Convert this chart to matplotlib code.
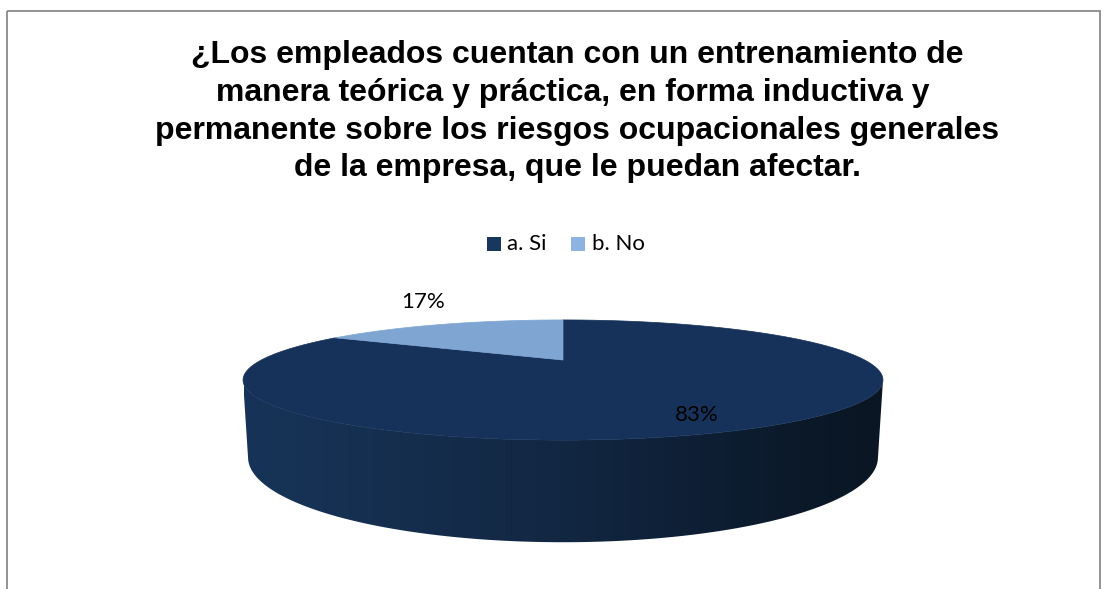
import numpy as np
import matplotlib
matplotlib.use("Agg")
import matplotlib.pyplot as plt
from matplotlib.patches import Polygon, Rectangle

# ---- data ----
categories = ["a. Si", "b. No"]
values = [83, 17]
value_labels = ["83%", "17%"]
title_lines = [
    "¿Los empleados cuentan con un entrenamiento de",
    "manera teórica y práctica, en forma inductiva y ",
    "permanente sobre los riesgos ocupacionales generales",
    "de la empresa, que le puedan afectar.",
]

# ---- style ----
top_colors = ["#16325a", "#7fa6d3"]
legend_colors = ["#17375e", "#8db3e2"]
side_stops_x = [244, 400, 560, 700, 800, 883]
side_stops_rgb = [(23, 52, 88), (21, 46, 78), (18, 39, 66), (14, 31, 53),
                  (11, 25, 41), (10, 22, 35)]

W, H = 1107, 589
fig = plt.figure(figsize=(W / 100, H / 100), dpi=100)
ax = fig.add_axes([0, 0, 1, 1])
ax.set_xlim(0, W)
ax.set_ylim(H, 0)
ax.axis("off")

# chart area border
ax.add_patch(Rectangle((7, 11), 1093, 620, fill=False, edgecolor="#8a8a8a",
                       linewidth=1.3, zorder=1))

# ---- perspective projection of a unit-radius pie ----
CX, CY = 563.0, 360.0          # projected pie centre (pixels)
tilt = np.radians(10.2)
ct, st = np.cos(tilt), np.sin(tilt)
DIST = 3.0 * ct                # camera distance in radius units
FOC = 905.0 * ct               # focal scale in pixels
THICK = 0.238                  # pie thickness in radius units


def proj(theta_deg, r=1.0, z=0.0):
    th = np.radians(theta_deg)
    X = r * np.cos(th)
    Y = r * np.sin(th)
    depth = DIST + Y * ct - z * st
    sx = CX + FOC * X / depth
    sy = CY - FOC * (Y * st + z * ct) / depth
    return sx, sy


# side wall (visible part of the cylinder)
sil = np.degrees(np.arcsin(-1.0 / (DIST * ct)))
th_side = np.linspace(180 - sil, 360 + sil, 300)
tx, ty = proj(th_side, 1.0, 0.0)
bx, by = proj(th_side[::-1], 1.0, -THICK)
side_xy = np.column_stack([np.concatenate([tx, bx]), np.concatenate([ty, by])])
side_poly = Polygon(side_xy, closed=True, facecolor="none", edgecolor="none")
ax.add_patch(side_poly)

gx = np.linspace(side_stops_x[0], side_stops_x[-1], 600)
grad = np.zeros((1, gx.size, 3))
for k in range(3):
    grad[0, :, k] = np.interp(gx, side_stops_x, [c[k] for c in side_stops_rgb]) / 255.0
img = ax.imshow(grad, extent=[gx[0], gx[-1], by.max() + 2, ty.min() - 2],
                aspect="auto", interpolation="bilinear", zorder=2)
img.set_clip_path(side_poly)

# top face wedges, clockwise from 12 o'clock
fractions = np.array(values, dtype=float) / np.sum(values)
start = 90.0
for frac, col in zip(fractions, top_colors):
    end = start - frac * 360.0
    th = np.linspace(start, end, 200)
    rx, ry = proj(th)
    xy = np.column_stack([np.concatenate([[CX], rx]), np.concatenate([[CY], ry])])
    ax.add_patch(Polygon(xy, closed=True, facecolor=col, edgecolor=col,
                         linewidth=0.5, zorder=3))
    start = end

# value labels
label_pos = [(697, 415), (423, 302)]
for txt, (lx, ly) in zip(value_labels, label_pos):
    ax.text(lx, ly, txt, ha="center", va="center", fontsize=16,
            family="Lato", color="black", zorder=5)

# title
title_x = 577
baselines = [63, 101, 139, 176]
for line, yb in zip(title_lines, baselines):
    ax.text(title_x, yb, line, ha="center", va="baseline", fontsize=23,
            family="Liberation Sans", fontweight="bold", color="black")

# legend
leg_items = [(487, 507), (571, 592)]
for (sq_x, tx_x), name, col in zip(leg_items, categories, legend_colors):
    ax.add_patch(Rectangle((sq_x, 237), 14, 14, facecolor=col, edgecolor="none"))
    ax.text(tx_x, 244, name, ha="left", va="center", fontsize=16,
            family="Lato", color="black")

fig.savefig("out.png", dpi=100)
